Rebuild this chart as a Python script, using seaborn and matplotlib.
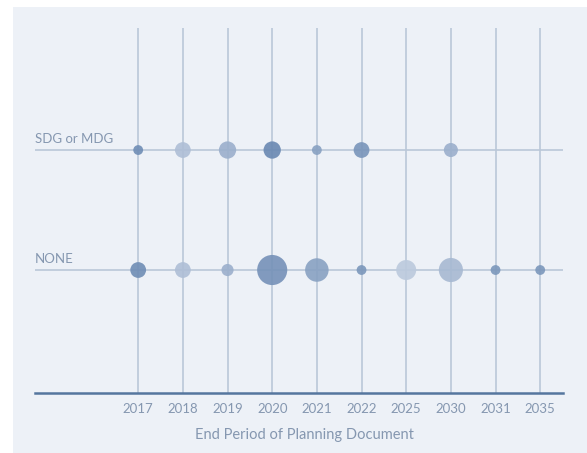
import numpy as np
import pandas as pd
import seaborn as sns
import matplotlib.pyplot as plt
from matplotlib.colors import LinearSegmentedColormap
from matplotlib.patches import Rectangle
import matplotlib.transforms as mtransforms

years = ['2017', '2018', '2019', '2020', '2021', '2022', '2025', '2030', '2031', '2035']
groups = ['NONE', 'SDG or MDG']

sdg_years = ['2017', '2018', '2019', '2020', '2021', '2022', '2030']
sdg_count = [1, 2.5, 3, 3, 1, 2.5, 2]
sdg_shade = [0.8, 0.3, 0.45, 0.85, 0.6, 0.72, 0.45]

none_years = ['2017', '2018', '2019', '2020', '2021', '2022', '2025', '2030', '2031', '2035']
none_count = [2.5, 2.5, 1.5, 9, 5.5, 1, 4, 5.8, 1, 1]
none_shade = [0.8, 0.3, 0.45, 0.75, 0.6, 0.7, 0.18, 0.35, 0.7, 0.7]

df = pd.concat([
    pd.DataFrame({'year': sdg_years, 'group': 'SDG or MDG', 'count': sdg_count, 'shade': sdg_shade}),
    pd.DataFrame({'year': none_years, 'group': 'NONE', 'count': none_count, 'shade': none_shade}),
])
df['x'] = df['year'].map({y: i for i, y in enumerate(years)})
df['y'] = df['group'].map({g: i for i, g in enumerate(groups)})

sns.set_style('white')
plt.rcParams['font.family'] = ['Lato', 'DejaVu Sans']

panel = '#edf1f7'
grid = '#bac7d8'
text_c = '#8597b0'

fig = plt.figure(figsize=(5.87, 4.53), dpi=100, facecolor='white')
fig.patches.append(Rectangle((13 / 587, 0), 1, 1 - 7 / 453, transform=fig.transFigure,
                             facecolor=panel, edgecolor='none', zorder=-10))
ax = fig.add_axes([35 / 587, 60 / 453, 528 / 587, 365 / 453])
ax.set_facecolor(panel)

cmap = LinearSegmentedColormap.from_list('blues', ['#d3dce9', '#5679a8'])

for i in range(len(years)):
    ax.axvline(i, color=grid, lw=1.2, zorder=0)
for j in range(len(groups)):
    ax.axhline(j, color=grid, lw=1.2, zorder=0)

sns.scatterplot(data=df, x='x', y='y', size='count', sizes=(50, 470), size_norm=(1, 9),
                hue='shade', palette=cmap, hue_norm=(0, 1), alpha=0.9,
                linewidth=0, legend=False, ax=ax, zorder=3)

ax.set_xlim(-2.31, 9.51)
ax.set_ylim(-1.025, 2.017)
ax.set_xticks(range(len(years)))
ax.set_xticklabels(years, color=text_c, fontsize=9.5)
ax.set_yticks([])
ax.tick_params(axis='x', length=0, pad=7)
ax.set_xlabel('End Period of Planning Document', color=text_c, fontsize=10.5, labelpad=7)
ax.xaxis.set_label_coords(0.51, -0.095)
ax.set_ylabel('')

trans = mtransforms.blended_transform_factory(ax.transAxes, ax.transData)
for j, g in enumerate(groups):
    ax.text(0, j + 0.04, g, transform=trans, ha='left', va='bottom', color=text_c, fontsize=9.5)

for s in ['top', 'right', 'left']:
    ax.spines[s].set_visible(False)
ax.spines['bottom'].set_color('#55769e')
ax.spines['bottom'].set_linewidth(1.8)

fig.savefig('out.png', dpi=100, facecolor='white')
